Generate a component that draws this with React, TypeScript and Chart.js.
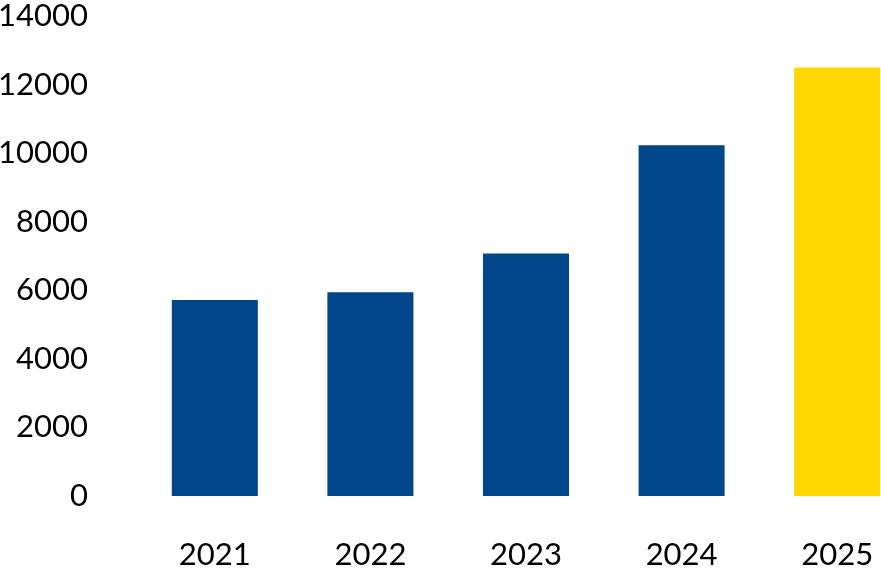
import React, { useEffect, useRef } from "react";
import { Chart, registerables } from "chart.js";

Chart.register(...registerables);

const years = ["2021", "2022", "2023", "2024", "2025"];
const values = [5720, 5940, 7070, 10230, 12500];
const yTicks = [0, 2000, 4000, 6000, 8000, 10000, 12000, 14000];

const BLUE = "#01468B";
const YELLOW = "#FFD600";

export default function App() {
  const ref = useRef<HTMLCanvasElement | null>(null);

  useEffect(() => {
    if (!ref.current) return;
    const font = { family: "Lato, 'Open Sans', sans-serif", size: 31, lineHeight: 1 };
    const chart = new Chart(ref.current, {
      type: "bar",
      data: {
        labels: years,
        datasets: [
          {
            data: values,
            backgroundColor: (ctx: any) =>
              ctx.dataIndex === years.length - 1 ? YELLOW : BLUE,
            borderWidth: 0,
            categoryPercentage: 1,
            barPercentage: 0.553,
          },
        ],
      },
      options: {
        animation: false,
        responsive: true,
        maintainAspectRatio: false,
        layout: { padding: { top: 16, left: 0, right: 0, bottom: 0 } },
        plugins: { legend: { display: false }, tooltip: { enabled: false } },
        scales: {
          x: {
            grid: { display: false, drawTicks: false },
            border: { display: false },
            ticks: { color: "#000", font, padding: 43, maxRotation: 0 },
            afterFit: (s: any) => {
              s.height = 72;
              s.paddingLeft = 0;
              s.paddingRight = 0;
            },
          },
          y: {
            min: 0,
            max: 14000,
            grid: { display: false, drawTicks: false },
            border: { display: false },
            afterBuildTicks: (s: any) => {
              s.ticks = yTicks.map((v) => ({ value: v }));
            },
            ticks: {
              color: "#000",
              font,
              padding: 49,
              callback: (v: any) => String(v),
            },
            afterFit: (s: any) => {
              s.width = 137;
              s.paddingTop = 0;
              s.paddingBottom = 0;
            },
          },
        },
      },
    });
    return () => chart.destroy();
  }, []);

  return (
    <div
      style={{
        position: "fixed",
        left: 0,
        top: 0,
        width: 881,
        height: 568,
        overflow: "hidden",
        background: "#fff",
      }}
    >
      <div style={{ position: "relative", width: 915, height: 568 }}>
        <canvas ref={ref} />
      </div>
    </div>
  );
}
